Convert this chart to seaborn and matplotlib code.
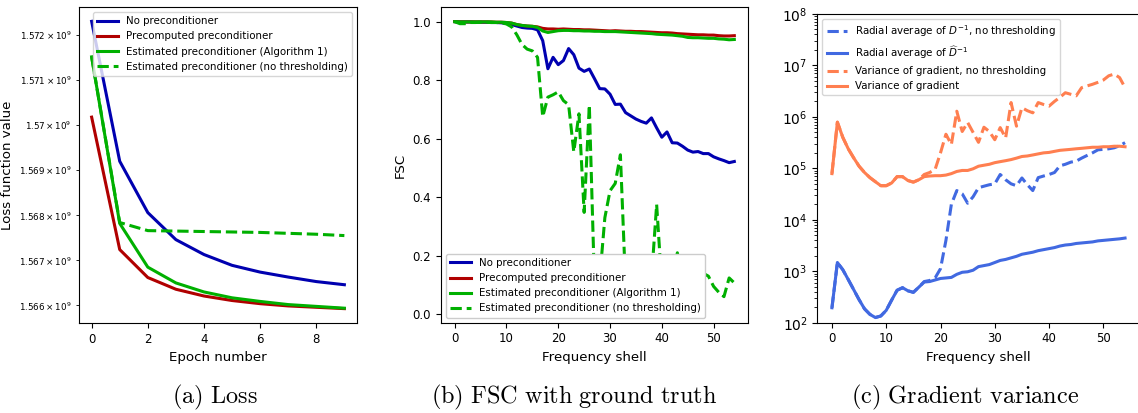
import numpy as np
import pandas as pd
import matplotlib
matplotlib.use("Agg")
import matplotlib.pyplot as plt
import seaborn as sns

# ---------------- data ----------------
epochs = [0, 1, 2, 3, 4, 5, 6, 7, 8, 9]
loss_none = [1.57231e9, 1.56920e9, 1.56806e9, 1.56746e9, 1.56713e9, 1.56689e9, 1.56674e9, 1.56663e9, 1.56653e9, 1.56646e9]
loss_precomp = [1.57018e9, 1.56724e9, 1.56662e9, 1.56636e9, 1.56621e9, 1.56611e9, 1.56604e9, 1.56599e9, 1.56596e9, 1.56593e9]
loss_est = [1.57152e9, 1.56782e9, 1.56685e9, 1.56650e9, 1.56630e9, 1.56617e9, 1.56609e9, 1.56602e9, 1.56598e9, 1.56594e9]
loss_est_nothr = [1.57152e9, 1.56784e9, 1.56766e9, 1.56765e9, 1.56764e9, 1.56763e9, 1.56762e9, 1.56760e9, 1.56758e9, 1.56755e9]

shells = list(range(55))
fsc_none = [1.0, 0.999, 0.999, 0.999, 0.998, 0.998, 0.998, 0.997, 0.997, 0.996,
            0.994, 0.99, 0.985, 0.98, 0.978, 0.977, 0.972, 0.935, 0.839, 0.878,
            0.853, 0.867, 0.908, 0.887, 0.841, 0.830, 0.838, 0.805, 0.771, 0.770,
            0.752, 0.717, 0.718, 0.689, 0.678, 0.667, 0.659, 0.653, 0.671, 0.637,
            0.605, 0.623, 0.586, 0.585, 0.574, 0.561, 0.554, 0.556, 0.549, 0.549,
            0.538, 0.531, 0.525, 0.518, 0.522]
fsc_precomp = [1.0, 0.999, 0.999, 0.999, 0.999, 0.999, 0.999, 0.999, 0.998, 0.998,
               0.997, 0.995, 0.99, 0.987, 0.985, 0.984, 0.982, 0.977, 0.975, 0.975,
               0.974, 0.975, 0.974, 0.973, 0.973, 0.972, 0.972, 0.971, 0.970, 0.969,
               0.968, 0.969, 0.968, 0.967, 0.967, 0.966, 0.966, 0.965, 0.964, 0.963,
               0.962, 0.962, 0.961, 0.959, 0.958, 0.957, 0.956, 0.955, 0.955, 0.954,
               0.954, 0.952, 0.951, 0.951, 0.952]
fsc_est = [1.0, 0.999, 0.999, 0.999, 0.999, 0.999, 0.999, 0.999, 0.998, 0.998,
           0.997, 0.995, 0.99, 0.987, 0.985, 0.984, 0.98, 0.968, 0.963, 0.966,
           0.969, 0.970, 0.970, 0.969, 0.969, 0.968, 0.968, 0.967, 0.967, 0.966,
           0.966, 0.966, 0.965, 0.964, 0.963, 0.962, 0.961, 0.960, 0.959, 0.957,
           0.956, 0.955, 0.954, 0.952, 0.950, 0.946, 0.945, 0.945, 0.944, 0.943,
           0.943, 0.941, 0.940, 0.938, 0.939]
fsc_est_nothr = [1.0, 0.993, 0.993, 0.997, 0.997, 0.998, 0.998, 0.997, 0.997, 0.996,
                 0.992, 0.982, 0.955, 0.922, 0.906, 0.900, 0.878, 0.675, 0.742, 0.750,
                 0.760, 0.730, 0.716, 0.555, 0.685, 0.348, 0.715, 0.10, 0.12, 0.33,
                 0.422, 0.447, 0.545, 0.10, 0.02, 0.08, 0.04, 0.10, 0.12, 0.375,
                 0.10, 0.16, 0.10, 0.21, 0.12, 0.16, 0.10, 0.15, 0.14, 0.13,
                 0.095, 0.075, 0.06, 0.124, 0.107]

radial_nothr = [195, 1480, 1070, 690, 440, 280, 186, 145, 126, 135,
                174, 275, 427, 479, 417, 389, 490, 631, 661, 741,
                1122, 3981, 2.0e4, 3.7e4, 3.2e4, 2.1e4, 2.8e4, 4.2e4, 4.5e4, 4.8e4,
                5.0e4, 7.6e4, 6.0e4, 5.0e4, 4.6e4, 6.5e4, 4.8e4, 3.7e4, 6.6e4, 7.1e4,
                7.6e4, 8.3e4, 1.12e5, 1.20e5, 1.32e5, 1.38e5, 1.58e5, 1.78e5, 2.0e5, 2.29e5,
                2.34e5, 2.40e5, 2.51e5, 2.75e5, 3.16e5]
radial_thr = [195, 1480, 1070, 690, 440, 280, 186, 145, 126, 135,
              174, 275, 427, 479, 417, 389, 490, 617, 631, 676,
              724, 741, 759, 871, 955, 977, 1047, 1230, 1288, 1349,
              1479, 1622, 1698, 1820, 1950, 2138, 2239, 2344, 2512, 2630,
              2754, 2884, 3090, 3236, 3311, 3467, 3548, 3631, 3715, 3890,
              3981, 4074, 4169, 4266, 4416]
var_nothr = [7.9e4, 7.9e5, 4.0e5, 2.4e5, 1.6e5, 1.1e5, 8.3e4, 6.6e4, 5.5e4, 4.6e4,
             4.6e4, 5.2e4, 6.9e4, 6.9e4, 5.8e4, 5.4e4, 6.0e4, 7.6e4, 8.3e4, 9.5e4,
             2.0e5, 4.6e5, 2.9e5, 1.29e6, 5.2e5, 7.8e5, 5.0e5, 3.2e5, 6.3e5, 5.2e5,
             3.6e5, 6.2e5, 3.9e5, 1.9e6, 6.6e5, 1.51e6, 1.32e6, 1.20e6, 1.9e6, 1.74e6,
             1.62e6, 2.0e6, 2.4e6, 2.95e6, 2.75e6, 2.57e6, 3.7e6, 4.0e6, 4.3e6, 4.7e6,
             5.2e6, 6.3e6, 6.8e6, 5.8e6, 3.7e6]
var_thr = [7.9e4, 7.9e5, 4.0e5, 2.4e5, 1.6e5, 1.1e5, 8.3e4, 6.6e4, 5.5e4, 4.6e4,
           4.6e4, 5.2e4, 6.9e4, 6.9e4, 5.8e4, 5.4e4, 6.0e4, 6.9e4, 7.1e4, 7.2e4,
           7.2e4, 7.4e4, 7.9e4, 8.7e4, 9.1e4, 9.1e4, 9.8e4, 1.10e5, 1.15e5, 1.20e5,
           1.29e5, 1.35e5, 1.41e5, 1.48e5, 1.58e5, 1.70e5, 1.74e5, 1.82e5, 1.91e5, 2.0e5,
           2.04e5, 2.14e5, 2.24e5, 2.29e5, 2.34e5, 2.40e5, 2.45e5, 2.51e5, 2.57e5, 2.57e5,
           2.63e5, 2.63e5, 2.69e5, 2.69e5, 2.63e5]

labels_ab = ["No preconditioner", "Precomputed preconditioner",
             "Estimated preconditioner (Algorithm 1)",
             "Estimated preconditioner (no thresholding)"]
labels_c = [r"Radial average of $D^{-1}$, no thresholding",
            r"Radial average of $\widehat{D}^{-1}$",
            "Variance of gradient, no thresholding",
            "Variance of gradient"]
captions = ["(a) Loss", "(b) FSC with ground truth", "(c) Gradient variance"]

# ---------------- style ----------------
C_BLUE = "#0000b0"
C_RED = "#b00000"
C_GREEN = "#00b000"
C_RB = "#4169e1"
C_OR = "#ff7f50"
LW = 2.2
TICK = 8.5
LAB = 9.6
LEG = 7.4

W, H = 1138, 413
fig = plt.figure(figsize=(W / 100, H / 100), dpi=100)

def px_axes(x0, y0, x1, y1):
    return fig.add_axes([x0 / W, (H - y1) / H, (x1 - x0) / W, (y1 - y0) / H])

# ---------------- (a) loss ----------------
ax1 = px_axes(79, 7, 357, 323)
sns.lineplot(x=epochs, y=loss_none, color=C_BLUE, lw=LW, label=labels_ab[0], ax=ax1)
sns.lineplot(x=epochs, y=loss_precomp, color=C_RED, lw=LW, label=labels_ab[1], ax=ax1)
sns.lineplot(x=epochs, y=loss_est, color=C_GREEN, lw=LW, label=labels_ab[2], ax=ax1)
sns.lineplot(x=epochs, y=loss_est_nothr, color=C_GREEN, lw=LW, linestyle="--", label=labels_ab[3], ax=ax1)
ax1.set_yscale("log")
ax1.set_xlabel("Epoch number", fontsize=LAB)
ax1.set_ylabel("Loss function value", fontsize=LAB)
ax1.yaxis.set_label_coords(-0.235, 0.5)
ax1.tick_params(axis="x", labelsize=TICK)
ax1.tick_params(axis="y", which="both", labelsize=6.3)
ax1.legend(loc="upper right", fontsize=LEG)

# ---------------- (b) FSC ----------------
ax2 = px_axes(440.7, 7.3, 748.3, 322.7)
sns.lineplot(x=shells, y=fsc_none, color=C_BLUE, lw=LW, label=labels_ab[0], ax=ax2)
sns.lineplot(x=shells, y=fsc_precomp, color=C_RED, lw=LW, label=labels_ab[1], ax=ax2)
sns.lineplot(x=shells, y=fsc_est, color=C_GREEN, lw=LW, label=labels_ab[2], ax=ax2)
sns.lineplot(x=shells, y=fsc_est_nothr, color=C_GREEN, lw=LW, linestyle="--", label=labels_ab[3], ax=ax2)
ax2.set_xlabel("Frequency shell", fontsize=LAB)
ax2.set_ylabel("FSC", fontsize=LAB)
ax2.set_xticks([0, 10, 20, 30, 40, 50])
ax2.set_yticks([0.0, 0.2, 0.4, 0.6, 0.8, 1.0])
ax2.tick_params(labelsize=TICK)
ax2.legend(loc="lower left", fontsize=LEG, framealpha=1.0)

# ---------------- (c) gradient variance ----------------
ax3 = px_axes(817.3, 14, 1139.7, 322.7)
sns.lineplot(x=shells, y=radial_nothr, color=C_RB, lw=LW, linestyle="--", label=labels_c[0], ax=ax3)
sns.lineplot(x=shells, y=radial_thr, color=C_RB, lw=LW, label=labels_c[1], ax=ax3)
sns.lineplot(x=shells, y=var_nothr, color=C_OR, lw=LW, linestyle="--", label=labels_c[2], ax=ax3)
sns.lineplot(x=shells, y=var_thr, color=C_OR, lw=LW, label=labels_c[3], ax=ax3)
ax3.set_yscale("log")
ax3.set_ylim(1e2, 1e8)
ax3.set_xticks([0, 10, 20, 30, 40, 50])
ax3.set_xlabel("Frequency shell", fontsize=LAB)
ax3.tick_params(axis="x", labelsize=TICK)
ax3.tick_params(axis="y", labelsize=10)
ax3.legend(loc="upper left", fontsize=LEG)

# ---------------- captions ----------------
for xc, cap in zip([215, 574, 965], captions):
    fig.text(xc / W, (H - 397) / H, "$\\mathrm{" + cap.replace(" ", "\\ ") + "}$",
             ha="center", va="center", fontsize=17.5, math_fontfamily="cm")

fig.savefig("out.png", dpi=100)
